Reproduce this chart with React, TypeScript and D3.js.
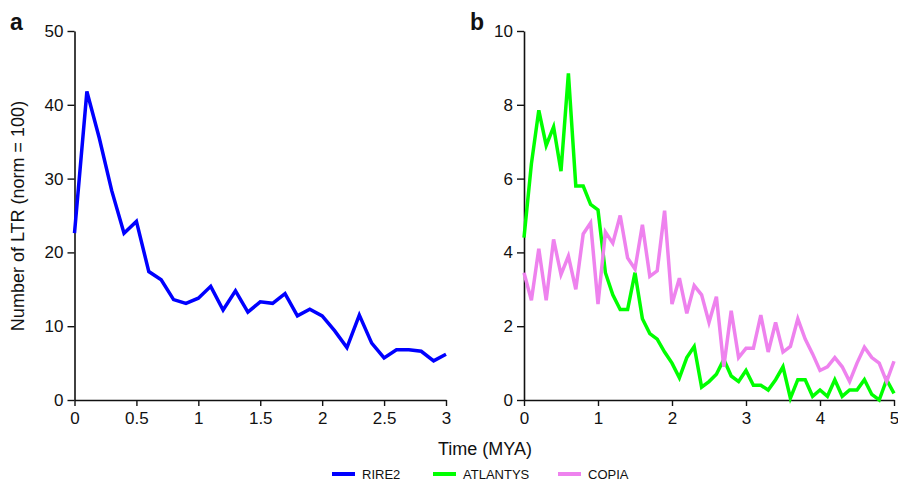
import React, { useEffect, useRef } from "react";
import * as d3 from "d3";

// panel a: RIRE2, 0-3 MYA in 0.1 steps
const timeA = [
  0, 0.1, 0.2, 0.3, 0.4, 0.5, 0.6, 0.7, 0.8, 0.9, 1.0, 1.1, 1.2, 1.3, 1.4, 1.5,
  1.6, 1.7, 1.8, 1.9, 2.0, 2.1, 2.2, 2.3, 2.4, 2.5, 2.6, 2.7, 2.8, 2.9, 3.0,
];
const rire2 = [
  22.6, 41.8, 35.5, 28.4, 22.6, 24.2, 17.4, 16.3, 13.6, 13.1, 13.8, 15.4, 12.2,
  14.8, 11.9, 13.3, 13.1, 14.4, 11.4, 12.3, 11.4, 9.4, 7.1, 11.5, 7.7, 5.7, 6.8,
  6.8, 6.6, 5.3, 6.2,
];

// panel b: ATLANTYS and COPIA, 0-5 MYA in 0.1 steps
const timeB = [
  0, 0.1, 0.2, 0.3, 0.4, 0.5, 0.6, 0.7, 0.8, 0.9, 1.0, 1.1, 1.2, 1.3, 1.4, 1.5,
  1.6, 1.7, 1.8, 1.9, 2.0, 2.1, 2.2, 2.3, 2.4, 2.5, 2.6, 2.7, 2.8, 2.9, 3.0, 3.1,
  3.2, 3.3, 3.4, 3.5, 3.6, 3.7, 3.8, 3.9, 4.0, 4.1, 4.2, 4.3, 4.4, 4.5, 4.6, 4.7,
  4.8, 4.9, 5.0,
];
const atlantys = [
  4.4, 6.4, 7.85, 6.9, 7.4, 6.2, 8.85, 5.8, 5.8, 5.3, 5.15, 3.45, 2.85, 2.45,
  2.45, 3.45, 2.2, 1.8, 1.65, 1.3, 1.0, 0.6, 1.15, 1.45, 0.35, 0.5, 0.7, 1.1,
  0.65, 0.5, 0.8, 0.4, 0.4, 0.27, 0.55, 0.9, 0.05, 0.55, 0.55, 0.1, 0.27, 0.1,
  0.55, 0.1, 0.27, 0.27, 0.55, 0.15, 0.0, 0.55, 0.18,
];
const copia = [
  3.45, 2.7, 4.1, 2.7, 4.35, 3.4, 3.9, 3.0, 4.5, 4.8, 2.6, 4.55, 4.25, 5.0,
  3.85, 3.55, 4.75, 3.35, 3.5, 5.13, 2.6, 3.3, 2.35, 3.1, 2.85, 2.1, 2.8, 0.9,
  2.42, 1.15, 1.4, 1.4, 2.3, 1.3, 2.1, 1.3, 1.45, 2.2, 1.65, 1.25, 0.8, 0.9,
  1.15, 0.9, 0.5, 1.0, 1.43, 1.15, 1.0, 0.5, 1.05,
];

const xTicksA = [0, 0.5, 1, 1.5, 2, 2.5, 3];
const yTicksA = [0, 10, 20, 30, 40, 50];
const xTicksB = [0, 1, 2, 3, 4, 5];
const yTicksB = [0, 2, 4, 6, 8, 10];

const legendItems = ["RIRE2", "ATLANTYS", "COPIA"];
const colors = ["#0000ff", "#00ff00", "#ee82ee"];

const FONT = "'Liberation Sans', Arial, Helvetica, sans-serif";

const App = () => {
  const ref = useRef<SVGSVGElement>(null);

  useEffect(() => {
    const svg = d3.select(ref.current).attr("width", 898).attr("height", 483);
    svg.selectAll("*").remove();
    svg.style("font-family", FONT);

    const top = 31;
    const bottom = 400;

    const drawAxes = (x: any, y: any, xTicks: number[], yTicks: number[]) => {
      const gx = svg
        .append("g")
        .attr("transform", `translate(0, ${bottom})`)
        .call(
          d3
            .axisBottom(x)
            .tickValues(xTicks)
            .tickSizeInner(6)
            .tickSizeOuter(0)
            .tickPadding(6)
            .tickFormat((d: any) => String(d))
        );
      const gy = svg
        .append("g")
        .attr("transform", `translate(${x.range()[0]}, 0)`)
        .call(
          d3
            .axisLeft(y)
            .tickValues(yTicks)
            .tickSizeInner(7)
            .tickSizeOuter(0)
            .tickPadding(4)
            .tickFormat((d: any) => String(d))
        );
      [gx, gy].forEach((g) => {
        g.select(".domain").attr("stroke", "#111").attr("stroke-width", 1.6);
        g.selectAll(".tick line").attr("stroke", "#111").attr("stroke-width", 1.4);
        g.selectAll(".tick text")
          .attr("fill", "#111")
          .style("font-size", "17px")
          .style("font-family", FONT);
      });
    };

    const drawLine = (x: any, y: any, times: number[], vals: number[], color: string) => {
      const line = d3
        .line<number>()
        .x((_, i) => x(times[i]))
        .y((d) => y(d));
      svg
        .append("path")
        .datum(vals)
        .attr("fill", "none")
        .attr("stroke", color)
        .attr("stroke-width", 3.5)
        .attr("stroke-linejoin", "miter")
        .attr("d", line);
    };

    // panel a
    const xA = d3.scaleLinear().domain([0, 3]).range([74.5, 446]);
    const yA = d3.scaleLinear().domain([0, 50]).range([bottom, top]);
    drawAxes(xA, yA, xTicksA, yTicksA);
    drawLine(xA, yA, timeA, rire2, colors[0]);

    // panel b
    const xB = d3.scaleLinear().domain([0, 5]).range([524, 894]);
    const yB = d3.scaleLinear().domain([0, 10]).range([bottom, top]);
    drawAxes(xB, yB, xTicksB, yTicksB);
    drawLine(xB, yB, timeB, atlantys, colors[1]);
    drawLine(xB, yB, timeB, copia, colors[2]);

    // panel letters
    svg.append("text").attr("x", 10).attr("y", 30).style("font-size", "23px")
      .style("font-weight", "bold").attr("fill", "#111").text("a");
    svg.append("text").attr("x", 470).attr("y", 30).style("font-size", "23px")
      .style("font-weight", "bold").attr("fill", "#111").text("b");

    // axis titles
    svg
      .append("text")
      .attr("transform", `translate(24, 216) rotate(-90)`)
      .attr("text-anchor", "middle")
      .style("font-size", "18px")
      .attr("fill", "#111")
      .text("Number of LTR (norm = 100)");
    svg
      .append("text")
      .attr("x", 485)
      .attr("y", 455)
      .attr("text-anchor", "middle")
      .style("font-size", "18px")
      .attr("fill", "#111")
      .text("Time (MYA)");

    // legend
    const legendX = [332, 433, 558];
    legendItems.forEach((name, i) => {
      const g = svg.append("g").attr("transform", `translate(${legendX[i]}, 474)`);
      g.append("line")
        .attr("x1", 0)
        .attr("x2", 23)
        .attr("y1", 0)
        .attr("y2", 0)
        .attr("stroke", colors[i])
        .attr("stroke-width", 4);
      g.append("text")
        .attr("x", 30)
        .attr("y", 4.5)
        .style("font-size", "13px")
        .attr("fill", "#111")
        .text(name);
    });
  }, []);

  return <svg ref={ref} style={{ position: "absolute", left: 0, top: 0 }} />;
};

export default App;
